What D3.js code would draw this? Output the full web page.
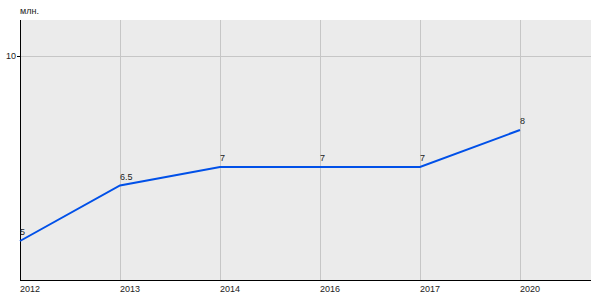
<!DOCTYPE html>
<html>
<head>
<script src="https://cdnjs.cloudflare.com/ajax/libs/d3/7.8.5/d3.min.js"></script>
<style>
  body { margin: 0; background: #fff; font-family: Arial, "Liberation Sans", sans-serif; }
</style>
</head>
<body>
<svg id="chart" width="600" height="300"></svg>
<script>
  const years = ["2012", "2013", "2014", "2016", "2017", "2020"];
  const values = [5, 6.5, 7, 7, 7, 8];
  const labels = ["5", "6.5", "7", "7", "7", "8"];
  const yTicks = [10];

  const svg = d3.select("#chart");
  const plotLeft = 20, plotRight = 591, plotTop = 20, plotBottom = 280;

  // categories sit 100px apart, starting at the left axis
  const x = d3.scalePoint().domain(years).range([plotLeft, plotLeft + 500]);
  const y = d3.scaleLinear().domain([5, 8]).range([241, 130]);

  svg.append("rect")
    .attr("x", plotLeft).attr("y", plotTop)
    .attr("width", plotRight - plotLeft).attr("height", plotBottom - plotTop)
    .attr("fill", "#ebebeb");

  // grid
  svg.append("g").selectAll("line")
    .data(years)
    .join("line")
    .attr("x1", d => x(d) + 0.5).attr("x2", d => x(d) + 0.5)
    .attr("y1", plotTop).attr("y2", plotBottom)
    .attr("stroke", "#c6c6c6");
  svg.append("g").selectAll("line")
    .data(yTicks)
    .join("line")
    .attr("x1", plotLeft).attr("x2", plotRight)
    .attr("y1", d => Math.round(y(d)) + 0.5).attr("y2", d => Math.round(y(d)) + 0.5)
    .attr("stroke", "#c6c6c6");

  // axes
  svg.append("line")
    .attr("x1", plotLeft + 0.5).attr("x2", plotLeft + 0.5)
    .attr("y1", plotTop).attr("y2", plotBottom + 0.5)
    .attr("stroke", "#000");
  svg.append("line")
    .attr("x1", plotLeft).attr("x2", plotRight)
    .attr("y1", plotBottom + 0.5).attr("y2", plotBottom + 0.5)
    .attr("stroke", "#000");

  svg.append("g").selectAll("line")
    .data(yTicks)
    .join("line")
    .attr("x1", plotLeft - 3).attr("x2", plotLeft)
    .attr("y1", d => Math.round(y(d)) + 0.5).attr("y2", d => Math.round(y(d)) + 0.5)
    .attr("stroke", "#000");
  svg.append("g").selectAll("text")
    .data(yTicks)
    .join("text")
    .attr("x", plotLeft - 4).attr("y", d => y(d) + 3)
    .attr("text-anchor", "end")
    .attr("font-size", 9)
    .attr("fill", "#222")
    .text(d => d);

  svg.append("text")
    .attr("x", plotLeft).attr("y", 14)
    .attr("font-size", 9)
    .attr("fill", "#222")
    .text("млн.");

  svg.append("g").selectAll("text")
    .data(years)
    .join("text")
    .attr("x", d => x(d)).attr("y", 292)
    .attr("font-size", 9)
    .attr("fill", "#222")
    .text(d => d);

  // series
  const line = d3.line()
    .x((d, i) => x(years[i]))
    .y(d => y(d));
  svg.append("path")
    .datum(values)
    .attr("d", line)
    .attr("fill", "none")
    .attr("stroke", "#0050e8")
    .attr("stroke-width", 2);

  svg.append("g").selectAll("text")
    .data(values)
    .join("text")
    .attr("x", (d, i) => x(years[i]))
    .attr("y", d => y(d) - 6)
    .attr("font-size", 9)
    .attr("fill", "#222")
    .text((d, i) => labels[i]);
</script>
</body>
</html>
